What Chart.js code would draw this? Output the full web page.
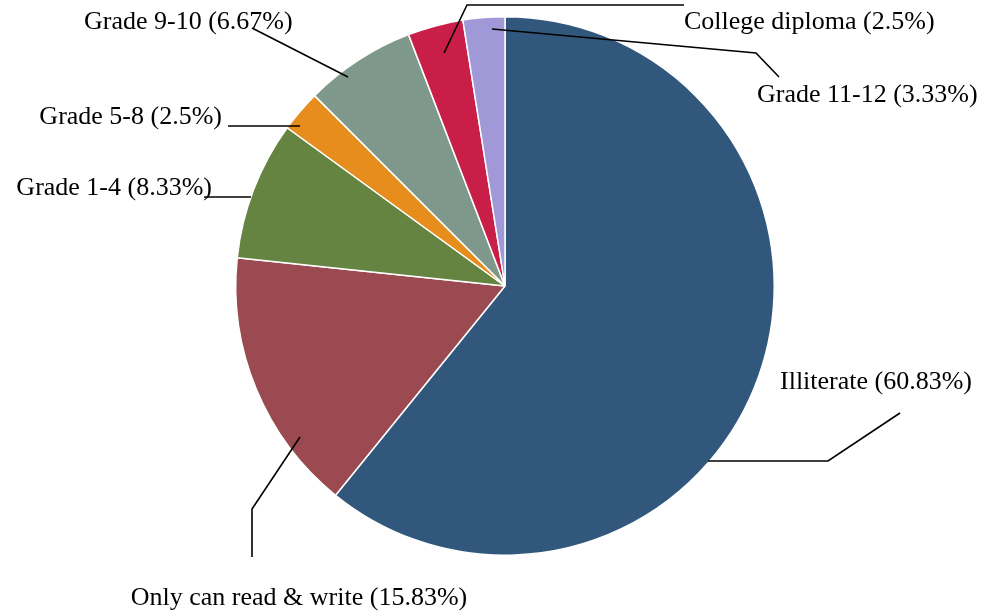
<!DOCTYPE html>
<html>
<head>
<meta charset="utf-8">
<script src="https://cdn.jsdelivr.net/npm/chart.js@4"></script>
<style>
html,body{margin:0;padding:0;background:#fff;}
#wrap{width:989px;height:615px;position:relative;}
</style>
</head>
<body>
<div id="wrap"><canvas id="c" width="989" height="615"></canvas></div>
<script>
const categories = ["Illiterate", "Only can read & write", "Grade 1-4", "Grade 5-8", "Grade 9-10", "Grade 11-12", "College diploma"];
const percentages = [60.83, 15.83, 8.33, 2.5, 6.67, 3.33, 2.5];
const colors = ["#31587c", "#9a4a50", "#658442", "#e78d1d", "#7e988c", "#c81e47", "#a198d8"];

// Annotation layout: label anchor (x, y, align) and leader line paths, in canvas pixels
const labelLayout = [
  {x: 780, y: 382, align: "left",   path: [[708,461],[828,461],[900,413]]},
  {x: 299, y: 598, align: "center", path: [[300,437],[252,509],[252,557]]},
  {x: 212, y: 188, align: "right",  path: [[251,197],[204,197]]},
  {x: 222, y: 117, align: "right",  path: [[300,126],[228,126]]},
  {x: 84,  y: 22,  align: "left",   path: [[348,77],[252,28]]},
  {x: 757, y: 95,  align: "left",   path: [[492,29],[756,53],[779,77]]},
  {x: 684, y: 22,  align: "left",   path: [[444,53],[467,5],[684,5]]}
];

const labelPlugin = {
  id: "leaderLabels",
  afterDatasetsDraw(chart) {
    const ctx = chart.ctx;
    ctx.save();
    ctx.strokeStyle = "#000";
    ctx.lineWidth = 1.6;
    labelLayout.forEach(l => {
      ctx.beginPath();
      l.path.forEach((p, i) => i ? ctx.lineTo(p[0], p[1]) : ctx.moveTo(p[0], p[1]));
      ctx.stroke();
    });
    ctx.fillStyle = "#000";
    ctx.font = "26px 'Liberation Serif', 'Times New Roman', serif";
    ctx.textBaseline = "middle";
    labelLayout.forEach((l, i) => {
      ctx.textAlign = l.align;
      ctx.fillText(categories[i] + " (" + percentages[i] + "%)", l.x, l.y);
    });
    ctx.restore();
  }
};

new Chart(document.getElementById("c"), {
  type: "pie",
  data: {
    labels: categories,
    datasets: [{
      data: percentages,
      backgroundColor: colors,
      borderColor: "#ffffff",
      borderWidth: 1.5
    }]
  },
  options: {
    responsive: false,
    animation: false,
    layout: {padding: {left: 21, right: 0, top: 16, bottom: 59}},
    plugins: {legend: {display: false}, tooltip: {enabled: false}}
  },
  plugins: [labelPlugin]
});
</script>
</body>
</html>
